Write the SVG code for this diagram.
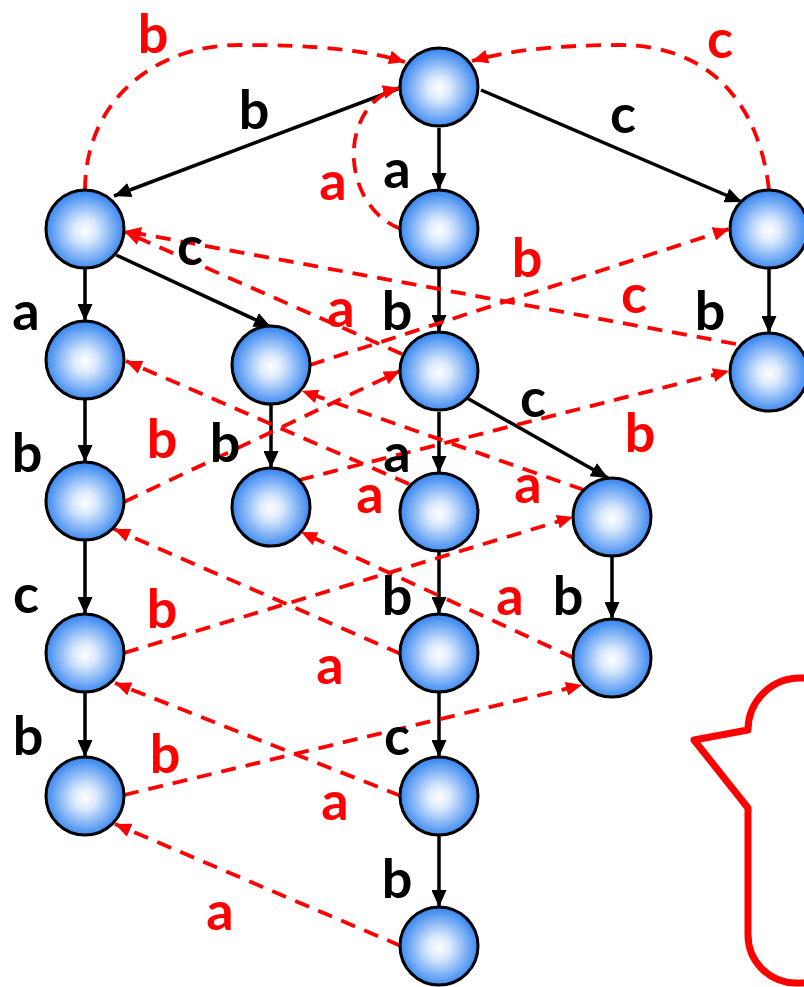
<svg xmlns="http://www.w3.org/2000/svg" width="804" height="987" viewBox="0 0 804 987">
<defs>
<radialGradient id="ng" cx="50%" cy="52%" r="50%">
<stop offset="0" stop-color="#FFFFFF"/>
<stop offset="0.3" stop-color="#D9E8FD"/>
<stop offset="1" stop-color="#3A88F0"/>
</radialGradient>
<marker id="ab" markerUnits="userSpaceOnUse" markerWidth="17" markerHeight="15" refX="17" refY="7.5" orient="auto"><path d="M0,0 L17,7.5 L0,15 z" fill="#000"/></marker>
<marker id="ar" markerUnits="userSpaceOnUse" markerWidth="16" markerHeight="14" refX="16" refY="7" orient="auto"><path d="M0,0 L16,7 L0,14 z" fill="#FF0000"/></marker>
<style>
.n{fill:url(#ng);stroke:#000;stroke-width:3}
.t{fill:none;stroke:#000;stroke-width:3.5;marker-end:url(#ab)}
.f{fill:none;stroke:#FF0000;stroke-width:3.8;stroke-dasharray:15 10;marker-end:url(#ar)}
.lb{font-family:Lato,"Open Sans",sans-serif;font-weight:bold;font-size:54px;fill:#000;text-anchor:middle}
.lr{font-family:Lato,"Open Sans",sans-serif;font-weight:bold;font-size:54px;fill:#FF0000;text-anchor:middle}
</style>
</defs>
<rect width="804" height="987" fill="#FFFFFF"/>
<g id="connectors">
<path class="t" d="M400,88 L114,196"/>
<path class="t" d="M439,128 L439,190"/>
<path class="t" d="M481,90 L742,202"/>
<path class="t" d="M85,268 L85,321"/>
<path class="t" d="M116,255 L271,327"/>
<path class="t" d="M439,269 L439,332"/>
<path class="t" d="M769,269 L769,333"/>
<path class="t" d="M85,400 L85,462"/>
<path class="t" d="M271,404 L271,468"/>
<path class="t" d="M439,412 L439,473"/>
<path class="t" d="M467,398 L608,478"/>
<path class="t" d="M85,541 L85,614"/>
<path class="t" d="M439,551 L439,614"/>
<path class="t" d="M612,557 L612,619"/>
<path class="t" d="M85,693 L85,757"/>
<path class="t" d="M439,693 L439,757"/>
<path class="t" d="M439,836 L439,907"/>
<path class="f" d="M85,190 C85,105 150,45 240,45 C320,45 365,50 405,62"/>
<path class="f" d="M769,190 C760,110 715,45 620,45 C560,45 510,50 472,61"/>
<path class="f" d="M401,229 C362,215 345,165 358,128 C366,105 380,93 399,88"/>
<path class="f" d="M402,354 L125,232"/>
<path class="f" d="M736,344 L125,231"/>
<path class="f" d="M310,365 L729,229"/>
<path class="f" d="M124,502 L400,371"/>
<path class="f" d="M299,480 L729,371"/>
<path class="f" d="M409,484 L126,361"/>
<path class="f" d="M584,490 L302,391"/>
<path class="f" d="M124,653 L573,517"/>
<path class="f" d="M401,654 L114,529"/>
<path class="f" d="M574,658 L301,532"/>
<path class="f" d="M124,795 L582,685"/>
<path class="f" d="M401,796 L115,683"/>
<path class="f" d="M401,946 L115,824"/>
</g>
<g id="R"><circle class="n" cx="439" cy="87" r="39"/></g>
<g id="L1"><circle class="n" cx="85" cy="229" r="39"/></g>
<g id="A"><circle class="n" cx="439" cy="229" r="39"/></g>
<g id="C"><circle class="n" cx="769" cy="229" r="39"/></g>
<g id="L1a"><circle class="n" cx="85" cy="360" r="39"/></g>
<g id="L1c"><circle class="n" cx="271" cy="365" r="39"/></g>
<g id="Ab"><circle class="n" cx="439" cy="371" r="39"/></g>
<g id="Cb"><circle class="n" cx="769" cy="372" r="39"/></g>
<g id="L1ab"><circle class="n" cx="85" cy="501" r="39"/></g>
<g id="L1cb"><circle class="n" cx="271" cy="507" r="39"/></g>
<g id="Aba"><circle class="n" cx="439" cy="512" r="39"/></g>
<g id="Abc"><circle class="n" cx="612" cy="517" r="39"/></g>
<g id="L1abc"><circle class="n" cx="85" cy="653" r="39"/></g>
<g id="Abab"><circle class="n" cx="439" cy="653" r="39"/></g>
<g id="Abcb"><circle class="n" cx="612" cy="658" r="39"/></g>
<g id="L1abcb"><circle class="n" cx="85" cy="796" r="39"/></g>
<g id="Ababc"><circle class="n" cx="439" cy="796" r="39"/></g>
<g id="Ababcb"><circle class="n" cx="439" cy="946" r="39"/></g>
<g id="labels-black">
<text class="lb" x="254" y="129">b</text>
<text class="lb" x="623" y="133">c</text>
<text class="lb" x="397" y="188">a</text>
<text class="lb" x="190" y="265">c</text>
<text class="lb" x="26" y="330">a</text>
<text class="lb" x="397" y="330">b</text>
<text class="lb" x="710" y="330">b</text>
<text class="lb" x="533" y="417">c</text>
<text class="lb" x="27" y="472">b</text>
<text class="lb" x="225" y="462">b</text>
<text class="lb" x="397" y="472">a</text>
<text class="lb" x="26" y="613">c</text>
<text class="lb" x="397" y="615">b</text>
<text class="lb" x="568" y="615">b</text>
<text class="lb" x="28" y="755">b</text>
<text class="lb" x="397" y="755">c</text>
<text class="lb" x="397" y="898">b</text>
</g>
<g id="labels-red">
<text class="lr" x="153" y="53">b</text>
<text class="lr" x="720" y="58">c</text>
<text class="lr" x="333" y="200">a</text>
<text class="lr" x="527" y="277">b</text>
<text class="lr" x="341" y="327">a</text>
<text class="lr" x="634" y="313">c</text>
<text class="lr" x="162" y="458">b</text>
<text class="lr" x="640" y="452">b</text>
<text class="lr" x="370" y="513">a</text>
<text class="lr" x="528" y="503">a</text>
<text class="lr" x="162" y="628">b</text>
<text class="lr" x="510" y="615">a</text>
<text class="lr" x="330" y="684">a</text>
<text class="lr" x="165" y="773">b</text>
<text class="lr" x="335" y="820">a</text>
<text class="lr" x="220" y="930">a</text>
</g>
<g id="callout">
<path d="M810,678 L800,678 A52,52 0 0 0 748,730 L694,740 L748,808 L748,935 A48,48 0 0 0 796,983 L810,983" fill="none" stroke="#FF0000" stroke-width="7" stroke-linejoin="round"/>
</g>
</svg>
